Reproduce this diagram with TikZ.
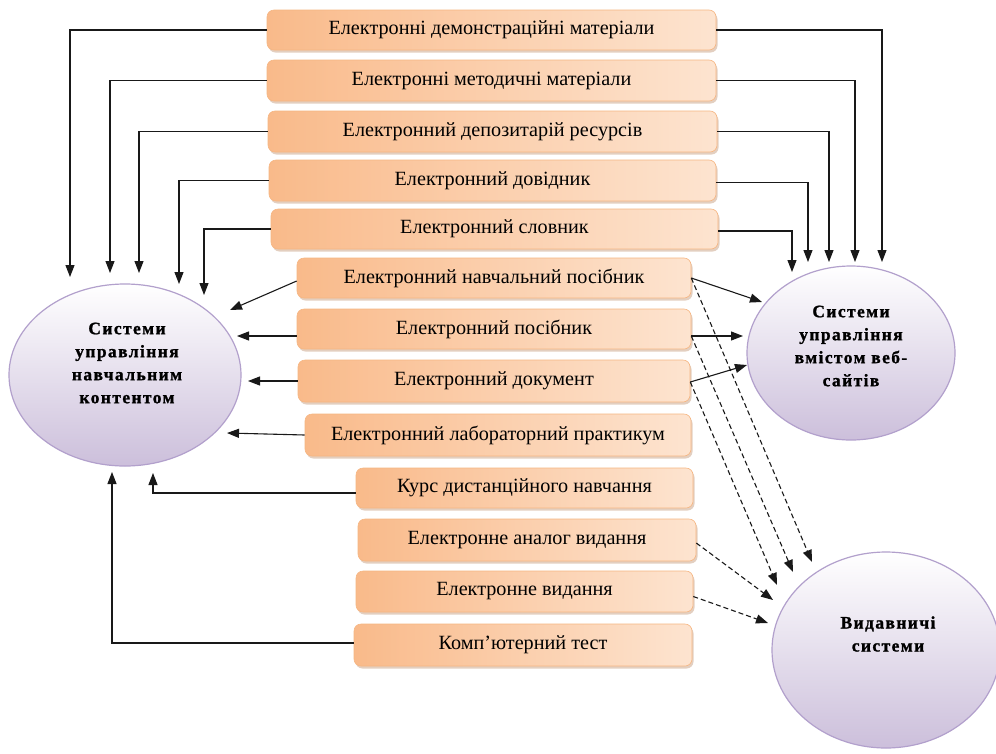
\documentclass[tikz,border=0pt]{standalone}
\usepackage{fontspec}
\setmainfont{Liberation Serif}
\usetikzlibrary{arrows.meta,shadows,calc,shapes.geometric}
\definecolor{boxA}{RGB}{249,186,138}
\definecolor{boxB}{RGB}{253,228,208}
\definecolor{boxEdge}{RGB}{246,182,130}
\definecolor{boxShadow}{RGB}{200,160,130}
\definecolor{elBot}{RGB}{204,191,219}
\definecolor{elEdge}{RGB}{178,160,204}
\definecolor{lineC}{RGB}{25,25,25}
\begin{document}
\begin{tikzpicture}[x=1pt,y=-1pt,
  ebox/.style={draw=boxEdge, line width=0.6pt, rounded corners=7pt,
    left color=boxA, right color=boxB,
    drop shadow={shadow xshift=1.5pt, shadow yshift=-2.5pt, fill=boxShadow, opacity=0.5},
    font=\fontsize{20.2}{22}\selectfont, inner sep=0pt},
  ell/.style={ellipse, draw=elEdge, line width=1.2pt, top color=white, bottom color=elBot, inner sep=0pt},
  etext/.style={align=center, font=\fontsize{17.5}{23}\selectfont\bfseries\addfontfeature{LetterSpace=8,FakeBold=1.2}},
  conn/.style={draw=lineC, line width=1.1pt, -{Triangle[length=12pt,width=9pt]}},
  dconn/.style={conn, dash pattern=on 5pt off 3pt}
]
\useasboundingbox (0,0) rectangle (996,753);
\fill[white] (0,0) rectangle (996,753);

% ellipses
\node[ell, minimum width=232pt, minimum height=182pt] (L) at (125,375) {};
\node[ell, minimum width=208pt, minimum height=174pt] (R) at (851,353) {};
\node[ell, minimum width=228pt, minimum height=196pt] (P) at (886,650) {};
\node[etext] (Ltx) at (127,363) {Системи\\управління\\навчальним\\контентом};
\node[etext] (Rtx) at (851,346) {Системи\\управління\\вмістом веб-\\сайтів};
\node[etext] (Ptx) at (888,634) {Видавничі\\системи};

% boxes
\node[ebox, minimum width=449pt, minimum height=40pt] (b1) at (491.5,30) {Електронні демонстраційні матеріали};
\node[ebox, minimum width=449pt, minimum height=41pt] (b2) at (491.5,80.5) {Електронні методичні матеріали};
\node[ebox, minimum width=449pt, minimum height=41pt] (b3) at (492.5,131.5) {Електронний депозитарій ресурсів};
\node[ebox, minimum width=447pt, minimum height=41pt] (b4) at (492.5,180.5) {Електронний довідник};
\node[ebox, minimum width=447pt, minimum height=40pt] (b5) at (494.5,229) {Електронний словник};
\node[ebox, minimum width=394pt, minimum height=40pt] (b6) at (494,278) {Електронний навчальний посібник};
\node[ebox, minimum width=394pt, minimum height=40pt] (b7) at (494,329) {Електронний посібник};
\node[ebox, minimum width=392pt, minimum height=42pt] (b8) at (494,381) {Електронний документ};
\node[ebox, minimum width=386pt, minimum height=42pt] (b9) at (498,435) {Електронний лабораторний практикум};
\node[ebox, minimum width=337pt, minimum height=40pt] (b10) at (524.5,488) {Курс дистанційного навчання};
\node[ebox, minimum width=338pt, minimum height=42pt] (b11) at (527,540) {Електронне аналог видання};
\node[ebox, minimum width=337pt, minimum height=41pt] (b12) at (524.5,591.5) {Електронне видання};
\node[ebox, minimum width=338pt, minimum height=42pt] (b13) at (523,645) {Комп’ютерний тест};

% arrow tip coordinates
\coordinate (l1) at (70,277);
\coordinate (l2) at (110,273);
\coordinate (l3) at (139,273);
\coordinate (l4) at (179,284);
\coordinate (l5) at (204,295);
\coordinate (l6) at (230,310);
\coordinate (l7) at (237,336);
\coordinate (l8) at (248,381);
\coordinate (l9) at (227,433);
\coordinate (l10) at (153,473);
\coordinate (l13) at (112,472);
\coordinate (r1) at (882,262);
\coordinate (r2) at (855,262);
\coordinate (r3) at (829,262);
\coordinate (r4) at (808,262);
\coordinate (r5) at (792,272);
\coordinate (r6) at (762,302);
\coordinate (r7) at (743,336);
\coordinate (r8) at (747,365);
\coordinate (p6) at (812,562);
\coordinate (p7) at (793,572);
\coordinate (p8) at (777,585);
\coordinate (p11) at (773,600);
\coordinate (p12) at (768,623);

% left connectors
\draw[conn] (b1.west) -| (l1);
\draw[conn] (b2.west) -| (l2);
\draw[conn] (b3.west) -| (l3);
\draw[conn] (b4.west) -| (l4);
\draw[conn] (b5.west) -| (l5);
\draw[conn] ($(b6.west)+(0,3)$) -- (l6);
\draw[conn] ($(b7.west)+(0,7)$) -- (l7);
\draw[conn] (b8.west) -- (l8);
\draw[conn] (b9.west) -- (l9);
\draw[conn] ($(b10.west)+(0,5)$) -| (l10);
\draw[conn] ($(b13.west)+(0,-2)$) -| (l13);

% right connectors
\draw[conn] (b1.east) -| (r1);
\draw[conn] (b2.east) -| (r2);
\draw[conn] (b3.east) -| (r3);
\draw[conn] ($(b4.east)+(0,2)$) -| (r4);
\draw[conn] ($(b5.east)+(0,2)$) -| (r5);
\draw[conn] (b6.east) -- (r6);
\draw[conn] ($(b7.east)+(0,7)$) -- (r7);
\draw[conn] ($(b8.east)+(0,1)$) -- (r8);

% dashed connectors
\draw[dconn] (b6.east) -- (p6);
\draw[dconn] ($(b7.east)+(0,7)$) -- (p7);
\draw[dconn] ($(b8.east)+(0,1)$) -- (p8);
\draw[dconn] ($(b11.east)+(0,3)$) -- (p11);
\draw[dconn] ($(b12.east)+(0,5)$) -- (p12);
\end{tikzpicture}
\end{document}
